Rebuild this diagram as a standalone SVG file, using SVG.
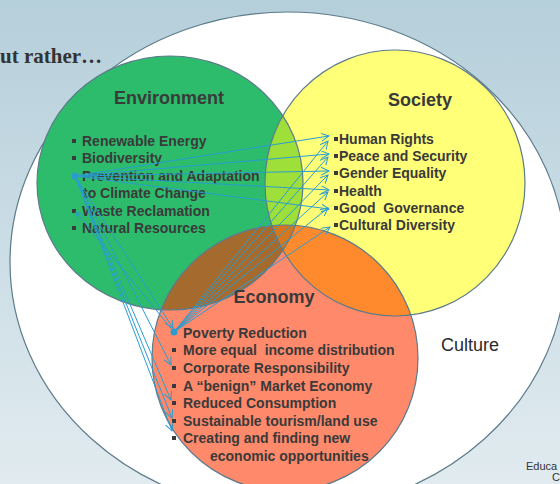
<svg xmlns="http://www.w3.org/2000/svg" width="560" height="484" viewBox="0 0 560 484">
<defs>
  <linearGradient id="bg" x1="0" y1="0" x2="0" y2="1">
    <stop offset="0" stop-color="#b5cfda"/>
    <stop offset="1" stop-color="#e1ebf0"/>
  </linearGradient>
  <clipPath id="clipEnv"><ellipse cx="170" cy="183" rx="133" ry="127"/></clipPath>
  <clipPath id="clipSoc"><ellipse cx="395" cy="183" rx="130" ry="133"/></clipPath>
  <marker id="arr" markerWidth="10" markerHeight="10" refX="8" refY="4" orient="auto" markerUnits="userSpaceOnUse">
    <path d="M0,0 L8,4 L0,8" fill="none" stroke="#2a9cd0" stroke-width="1"/>
  </marker>
  <style>
    .outline{fill:none;stroke:#5c7b8b;stroke-width:1.2}
    .head{font-family:"Liberation Sans",Arial,sans-serif;font-weight:bold;font-size:18px;fill:#3a3a3a}
    .item{font-family:"Liberation Sans",Arial,sans-serif;font-weight:bold;font-size:14px;fill:#3a3a3a}
    .bul{fill:#3a3a3a}
    .conn line{stroke:#2a9cd0;stroke-width:1;marker-end:url(#arr)}
  </style>
</defs>
<rect x="0" y="0" width="560" height="484" fill="url(#bg)"/>
<text x="0" y="63" font-family="Liberation Serif, Times New Roman, serif" font-weight="bold" font-size="21" fill="#333">ut rather…</text>
<text x="526" y="470" font-family="Liberation Sans, Arial, sans-serif" font-size="11" fill="#333">Educa</text>
<text x="552" y="481" font-family="Liberation Sans, Arial, sans-serif" font-size="11" fill="#333">C</text>

<g id="node-culture">
  <ellipse cx="288" cy="262" rx="278" ry="250" fill="#ffffff" stroke="#5c7b8b" stroke-width="1.2"/>
  <text x="441" y="351" font-family="Liberation Sans, Arial, sans-serif" font-size="18" fill="#2a2a2a">Culture</text>
</g>

<g id="fills">
  <ellipse cx="170" cy="183" rx="133" ry="127" fill="#2dbc6c"/>
  <ellipse cx="395" cy="183" rx="130" ry="133" fill="#ffff78"/>
  <ellipse cx="285" cy="358" rx="133" ry="133" fill="#ff896b"/>
  <g clip-path="url(#clipEnv)">
    <ellipse cx="395" cy="183" rx="130" ry="133" fill="#9fdf3a"/>
    <ellipse cx="285" cy="358" rx="133" ry="133" fill="#a46a2e"/>
  </g>
  <g clip-path="url(#clipSoc)">
    <ellipse cx="285" cy="358" rx="133" ry="133" fill="#ff8a2e"/>
    <g clip-path="url(#clipEnv)">
      <ellipse cx="285" cy="358" rx="133" ry="133" fill="#d4781f"/>
    </g>
  </g>
  <ellipse class="outline" cx="170" cy="183" rx="133" ry="127"/>
  <ellipse class="outline" cx="395" cy="183" rx="130" ry="133"/>
  <ellipse class="outline" cx="285" cy="358" rx="133" ry="133"/>
</g>

<g id="node-environment">
  <text class="head" x="169" y="104" text-anchor="middle">Environment</text>
  <rect class="bul" x="72" y="139" width="4" height="4"/>
  <rect class="bul" x="72" y="156" width="4" height="4"/>
  <rect class="bul" x="72" y="174" width="4" height="4"/>
  <rect class="bul" x="72" y="209" width="4" height="4"/>
  <rect class="bul" x="72" y="226" width="4" height="4"/>
  <text class="item" x="82" y="146">Renewable Energy</text>
  <text class="item" x="82" y="163">Biodiversity</text>
  <text class="item" x="82" y="181">Prevention and Adaptation</text>
  <text class="item" x="83" y="198">to Climate Change</text>
  <text class="item" x="82" y="216">Waste Reclamation</text>
  <text class="item" x="82" y="233">Natural Resources</text>
</g>

<g id="node-society">
  <text class="head" x="420" y="106" text-anchor="middle">Society</text>
  <rect class="bul" x="334" y="137" width="4" height="4"/>
  <rect class="bul" x="334" y="154" width="4" height="4"/>
  <rect class="bul" x="334" y="171" width="4" height="4"/>
  <rect class="bul" x="334" y="189" width="4" height="4"/>
  <rect class="bul" x="334" y="206" width="4" height="4"/>
  <rect class="bul" x="334" y="223" width="4" height="4"/>
  <text class="item" x="339" y="144">Human Rights</text>
  <text class="item" x="339" y="161">Peace and Security</text>
  <text class="item" x="339" y="178">Gender Equality</text>
  <text class="item" x="339" y="196">Health</text>
  <text class="item" x="339" y="213" xml:space="preserve">Good  Governance</text>
  <text class="item" x="339" y="230">Cultural Diversity</text>
</g>

<g id="node-economy">
  <text class="head" x="274" y="303" text-anchor="middle">Economy</text>
  <rect class="bul" x="172" y="348" width="4" height="4"/>
  <rect class="bul" x="172" y="366" width="4" height="4"/>
  <rect class="bul" x="172" y="384" width="4" height="4"/>
  <rect class="bul" x="172" y="401" width="4" height="4"/>
  <rect class="bul" x="172" y="419" width="4" height="4"/>
  <rect class="bul" x="172" y="436" width="4" height="4"/>
  <text class="item" x="183" y="338">Poverty Reduction</text>
  <text class="item" x="183" y="355" xml:space="preserve">More equal  income distribution</text>
  <text class="item" x="183" y="373">Corporate Responsibility</text>
  <text class="item" x="183" y="391">A “benign” Market Economy</text>
  <text class="item" x="183" y="408">Reduced Consumption</text>
  <text class="item" x="183" y="426">Sustainable tourism/land use</text>
  <text class="item" x="183" y="443">Creating and finding new</text>
  <text class="item" x="210" y="461">economic opportunities</text>
</g>

<g id="connectors" class="conn">
  <line x1="75" y1="176" x2="329" y2="136"/>
  <line x1="75" y1="176" x2="329" y2="154"/>
  <line x1="75" y1="176" x2="329" y2="171"/>
  <line x1="75" y1="176" x2="329" y2="190"/>
  <line x1="75" y1="176" x2="329" y2="209"/>
  <line x1="75" y1="176" x2="173" y2="328"/>
  <line x1="75" y1="176" x2="171" y2="365"/>
  <line x1="75" y1="176" x2="171" y2="400"/>
  <line x1="75" y1="176" x2="172" y2="418"/>
  <line x1="75" y1="176" x2="172" y2="431"/>
  <line x1="174" y1="332" x2="328" y2="141"/>
  <line x1="174" y1="332" x2="328" y2="157"/>
  <line x1="174" y1="332" x2="328" y2="175"/>
  <line x1="174" y1="332" x2="328" y2="192"/>
  <line x1="174" y1="332" x2="328" y2="208"/>
  <line x1="174" y1="332" x2="330" y2="227"/>
  <line x1="174" y1="332" x2="76" y2="212"/>
  <circle cx="75" cy="176" r="3.5" fill="#2a9cd0"/>
  <circle cx="174" cy="332" r="3.5" fill="#2a9cd0"/>
</g>
</svg>
